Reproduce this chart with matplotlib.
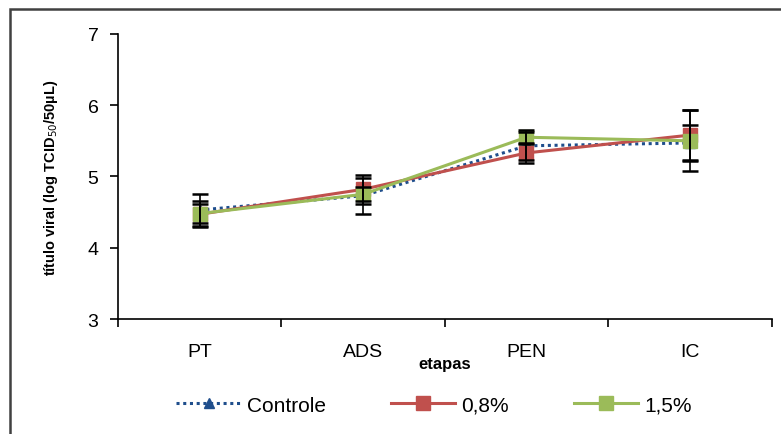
import matplotlib
matplotlib.use("Agg")
import matplotlib.pyplot as plt
from matplotlib.patches import Rectangle
from matplotlib.lines import Line2D

plt.rcParams['font.family'] = ['Liberation Sans', 'DejaVu Sans']

etapas = ['PT', 'ADS', 'PEN', 'IC']

controle = [4.53, 4.73, 5.43, 5.47]
controle_err = [0.22, 0.25, 0.20, 0.25]

c08 = [4.47, 4.82, 5.33, 5.58]
c08_err = [0.18, 0.20, 0.14, 0.35]

c15 = [4.48, 4.75, 5.55, 5.50]
c15_err = [0.13, 0.10, 0.10, 0.43]

fig = plt.figure(figsize=(7.81, 4.35), dpi=100)
ax = fig.add_axes([0.151, 0.264, 0.837, 0.656])

# outer border of the chart area
fig.patches.append(Rectangle((10/781, -0.1), 1.2, 1.1 - 10/435,
                             transform=fig.transFigure, fill=False,
                             edgecolor='#404040', lw=1.8))

x = range(len(etapas))
blue = '#1F4E8C'
red = '#C0504D'
green = '#9BBB59'

ax.plot(x, controle, ls=(0, (1, 1.2)), color=blue, lw=2.2, marker='^',
        ms=7, zorder=3)
ax.plot(x, c08, color=red, lw=2.2, marker='s', ms=10, zorder=4)
ax.plot(x, c15, color=green, lw=2.2, marker='s', ms=10, zorder=5)

for vals, errs in [(controle, controle_err), (c08, c08_err), (c15, c15_err)]:
    ax.errorbar(x, vals, yerr=errs, fmt='none', ecolor='black',
                elinewidth=1.2, capsize=5.5, capthick=1.8, zorder=6)

ax.set_xlim(-0.5, 3.5)
ax.set_ylim(3, 7)
ax.set_yticks([3, 4, 5, 6, 7])
ax.set_xticks([-0.5, 0.5, 1.5, 2.5, 3.5])
ax.set_xticklabels([])
ax.set_xticks(list(x), minor=True)
ax.set_xticklabels(etapas, minor=True)
ax.tick_params(axis='x', which='minor', length=0, pad=17, labelsize=14)
ax.tick_params(axis='x', which='major', length=6, width=1.2, direction='out')
ax.tick_params(axis='y', length=6, width=1.2, direction='out', labelsize=14,
               pad=8)
for s in ['top', 'right']:
    ax.spines[s].set_visible(False)
for s in ['left', 'bottom']:
    ax.spines[s].set_linewidth(1.2)

ax.set_ylabel('título viral (log TCID$_{50}$/50µL)', fontsize=10.5,
              fontweight='bold', labelpad=20)
ax.set_xlabel('etapas', fontsize=12, fontweight='bold', labelpad=-3)

handles = [
    Line2D([], [], ls=(0, (1, 1.2)), color=blue, lw=2.2, marker='^', ms=7),
    Line2D([], [], color=red, lw=2.2, marker='s', ms=10),
    Line2D([], [], color=green, lw=2.2, marker='s', ms=10),
]
fig.legend(handles, ['Controle', '0,8%', '1,5%'], loc='center',
           bbox_to_anchor=(0.556, 0.066), ncol=3, frameon=False,
           fontsize=15, handlelength=3.1, columnspacing=3.1,
           handletextpad=0.3)

fig.savefig('out.png', dpi=100)
